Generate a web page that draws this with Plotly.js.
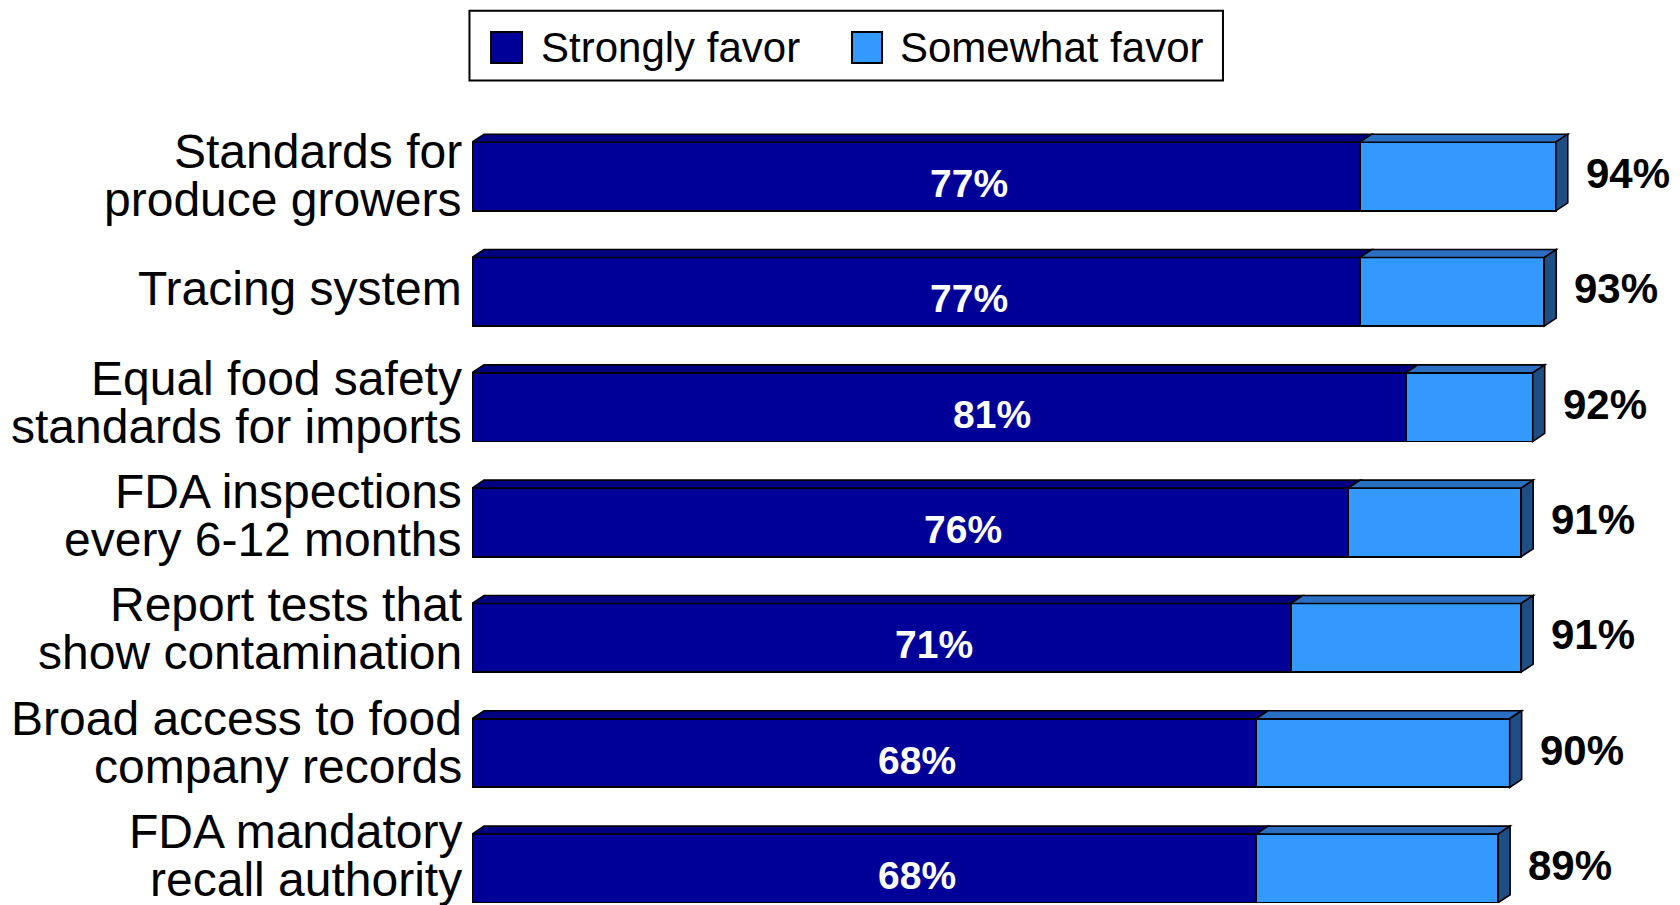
<!DOCTYPE html>
<html>
<head>
<meta charset="utf-8">
<script src="https://cdn.plot.ly/plotly-3.0.1.min.js"></script>
<style>html,body{margin:0;padding:0;background:#fff;}#chart{width:1680px;height:905px;}</style>
</head>
<body>
<div id="chart"></div>
<script>
// ---- data ----
const categories = [
  "Standards for<br>produce growers",
  "Tracing system",
  "Equal food safety<br>standards for imports",
  "FDA inspections<br>every 6-12 months",
  "Report tests that<br>show contamination",
  "Broad access to food<br>company records",
  "FDA mandatory<br>recall authority"
];
const stronglyFavor = [77, 77, 81, 76, 71, 68, 68];
const somewhatFavor = [17, 16, 11, 15, 20, 22, 21];
const seriesNames = ["Strongly favor", "Somewhat favor"];

// ---- styles ----
const FONT = "Liberation Sans, Arial, Helvetica, sans-serif";
const frontColors = ["#000099", "#3399FF"];
const topColors = ["#000080", "#2B6FC2"];
const sideColor = "#1F4E85";
const barW = 0.595, h = barW / 2, dx = 1.04, dy = 0.0693;

const idx = categories.map((_, i) => i);
const totals = stronglyFavor.map((v, i) => v + somewhatFavor[i]);

const traces = [stronglyFavor, somewhatFavor].map((vals, k) => ({
  type: "bar", orientation: "h", y: idx, x: vals, name: seriesNames[k],
  width: barW, showlegend: false, hoverinfo: "skip",
  marker: { color: frontColors[k], line: { color: "#000", width: 1.8 } }
}));

const shapes = [];
const lineSt = { color: "#000", width: 1.6 };
idx.forEach(i => {
  const s = stronglyFavor[i], t = totals[i];
  const yt = i - h, yb = i + h;
  const segs = [[0, s, topColors[0]], [s, t, topColors[1]]];
  segs.forEach(([a, b, c]) => {
    shapes.push({ type: "path", xref: "x", yref: "y", layer: "above",
      path: `M${a},${yt} L${a + dx},${yt - dy} L${b + dx},${yt - dy} L${b},${yt} Z`,
      fillcolor: c, line: lineSt });
  });
  shapes.push({ type: "path", xref: "x", yref: "y", layer: "above",
    path: `M${t},${yt} L${t + dx},${yt - dy} L${t + dx},${yb - dy} L${t},${yb} Z`,
    fillcolor: sideColor, line: lineSt });
});

// custom legend
shapes.push({ type: "rect", xref: "paper", yref: "paper", x0: -0.0021, x1: 0.6227, y0: 1.0118, y1: 1.0975,
  fillcolor: "#fff", line: { color: "#000", width: 2 } });
const swX = [[0.0158, 0.0415], [0.3151, 0.3400]];
const txtX = [0.0552, 0.3529];
const annotations = [];
seriesNames.forEach((n, k) => {
  shapes.push({ type: "rect", xref: "paper", yref: "paper", x0: swX[k][0], x1: swX[k][1], y0: 1.0332, y1: 1.0713,
    fillcolor: frontColors[k], line: { color: "#000", width: 2 } });
  annotations.push({ xref: "paper", yref: "paper", x: txtX[k], y: 1.0523, xanchor: "left", yanchor: "middle",
    text: n, showarrow: false, font: { family: FONT, size: 42, color: "#000" } });
});

idx.forEach(i => {
  const lines = categories[i].split("<br>");
  const n = lines.length;
  lines.forEach((ln, j) => {
    annotations.push({ xref: "paper", yref: "y", x: 0, y: i, xanchor: "right", yanchor: "middle",
      xshift: -8, yshift: 1 + 2.0 * i + ((n - 1) / 2 - j) * 48, text: ln, showarrow: false,
      font: { family: FONT, size: 48, color: "#000" } });
  });
  annotations.push({ xref: "x", yref: "y", x: stronglyFavor[i] / 2, y: i, xanchor: "center", yanchor: "middle",
    xshift: 53, yshift: -7, text: stronglyFavor[i] + "%", showarrow: false,
    font: { family: FONT, size: 39, color: "#fff", weight: 700 } });
  annotations.push({ xref: "x", yref: "y", x: totals[i], y: i, xanchor: "left", yanchor: "middle",
    xshift: 28, yshift: 3, text: totals[i] + "%", showarrow: false,
    font: { family: FONT, size: 42, color: "#000", weight: 700 } });
});

const layout = {
  width: 1680, height: 905,
  margin: { l: 472, r: 2, t: 90, b: 2, pad: 0 },
  paper_bgcolor: "#fff", plot_bgcolor: "#fff",
  barmode: "stack", bargap: 0, showlegend: false, hovermode: false,
  xaxis: { range: [0, 104.6], visible: false, showgrid: false, zeroline: false, fixedrange: true },
  yaxis: { range: [6.3, -0.75], visible: false, showgrid: false, zeroline: false, fixedrange: true },
  shapes, annotations,
  font: { family: FONT }
};

Plotly.newPlot("chart", traces, layout, { displayModeBar: false, staticPlot: true });
</script>
</body>
</html>
